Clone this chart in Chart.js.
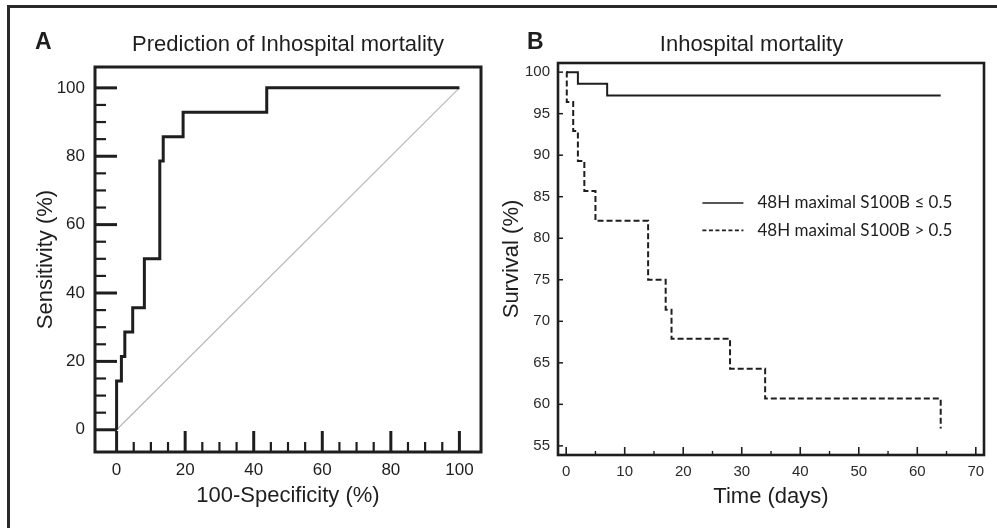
<!DOCTYPE html>
<html><head><meta charset="utf-8">
<script src="https://cdn.jsdelivr.net/npm/chart.js@4.4.1/dist/chart.umd.min.js"></script>
<style>
html,body{margin:0;padding:0;background:#fff;width:997px;height:528px;overflow:hidden;}
#frame{position:absolute;left:7px;top:5px;width:1010px;height:540px;border:3px solid #2a2a2a;box-sizing:border-box;}
#ca{position:absolute;left:0;top:0;}
#cb{position:absolute;left:497px;top:0;}
</style></head><body>
<div id="frame"></div>
<canvas id="ca" width="497" height="528"></canvas>
<canvas id="cb" width="500" height="528"></canvas>
<script>
// ---- Panel A: ROC curve (corner points, vertical step first) ----
const rocFpr = [0, 1.4, 2.4, 4.7, 8.1, 12.6, 13.6, 19.4, 43.8, 100];
const rocTpr = [0, 14.3, 21.4, 28.6, 35.7, 50.0, 78.6, 85.7, 92.9, 100];
const refFpr = [0, 100];
const refTpr = [0, 100];
const rocTicks = [0, 20, 40, 60, 80, 100];

// ---- Panel B: Kaplan-Meier survival ----
const kmLowTime = [0, 2, 7, 64];
const kmLowSurv = [100, 98.6, 97.2, 97.2];
const kmHighTime = [0, 0.1, 1.2, 2, 3.1, 5, 14, 17, 18, 28, 34, 64];
const kmHighSurv = [100, 96.4, 92.9, 89.3, 85.7, 82.1, 75.0, 71.4, 67.9, 64.3, 60.7, 57.1];
const kmLabels = ['48H maximal S100B \u2264 0.5', '48H maximal S100B > 0.5'];
const timeTicks = [0, 10, 20, 30, 40, 50, 60, 70];
const survTicks = [55, 60, 65, 70, 75, 80, 85, 90, 95, 100];

const ink = '#1e1e1e';
const sans = "'Liberation Sans', Arial, sans-serif";
const pts = (xs, ys) => xs.map((x, i) => ({x: x, y: ys[i]}));

function frameAndTicks(opts) {
  return {
    id: 'frameTicks',
    afterDatasetsDraw(chart) {
      const {ctx, chartArea: a, scales} = chart;
      ctx.save();
      ctx.strokeStyle = ink;
      ctx.lineCap = 'butt';
      for (const t of opts.ticks) {
        const s = scales[t.axis];
        const n = Math.round((t.to - t.from) / t.step);
        for (let i = 0; i <= n; i++) {
          const v = t.from + i * t.step;
          const major = Math.abs(v / t.major - Math.round(v / t.major)) < 1e-6;
          const len = major ? t.majLen : t.minLen;
          ctx.lineWidth = major ? t.majW : t.minW;
          const p = s.getPixelForValue(v);
          ctx.beginPath();
          if (t.axis === 'x') { ctx.moveTo(p, a.bottom); ctx.lineTo(p, a.bottom - len); }
          else { ctx.moveTo(a.left, p); ctx.lineTo(a.left + len, p); }
          ctx.stroke();
        }
      }
      ctx.lineWidth = opts.boxWidth;
      ctx.strokeRect(a.left, a.top, a.right - a.left, a.bottom - a.top);
      ctx.restore();
    }
  };
}
function panelLabel(text, x, y) {
  return { id: 'panelLabel', afterDraw(chart) {
    const ctx = chart.ctx; ctx.save(); ctx.fillStyle = ink;
    ctx.font = 'bold 23px ' + sans; ctx.textBaseline = 'alphabetic';
    ctx.fillText(text, x, y); ctx.restore(); } };
}
const kmLegend = { id: 'kmLegend', afterDatasetsDraw(chart) {
  const {ctx, chartArea: a} = chart;
  const w = a.right - a.left, h = a.bottom - a.top;
  ctx.save();
  ctx.font = '17px Lato, "Open Sans", sans-serif';
  ctx.fillStyle = ink; ctx.textBaseline = 'middle';
  chart.data.datasets.forEach((ds, i) => {
    const y = a.top + h * (0.357 + i * 0.07);
    const x0 = a.left + w * 0.339;
    ctx.strokeStyle = ink; ctx.lineWidth = 1.6;
    ctx.setLineDash(i === 0 ? [] : [4, 2.5]);
    ctx.beginPath(); ctx.moveTo(x0, y); ctx.lineTo(x0 + 41, y); ctx.stroke();
    ctx.setLineDash([]);
    ctx.fillText(ds.label, x0 + 55, y);
  });
  ctx.restore();
} };

Chart.defaults.font.family = sans;
Chart.defaults.color = ink;

new Chart(document.getElementById('ca'), {
  type: 'line',
  data: { datasets: [
    { label: 'ROC', data: pts(rocFpr, rocTpr), stepped: 'after', borderColor: ink, borderWidth: 3, pointRadius: 0, fill: false },
    { label: 'Reference', data: pts(refFpr, refTpr), borderColor: '#b8b8b8', borderWidth: 1.2, pointRadius: 0, fill: false }
  ]},
  options: {
    responsive: false, animation: false, devicePixelRatio: 1,
    layout: { padding: { left: 22, right: 16, top: 0, bottom: 0 } },
    plugins: {
      legend: { display: false }, tooltip: { enabled: false },
      title: { display: true, text: 'Prediction of Inhospital mortality', fullSize: false,
        font: { size: 22, weight: 'normal' }, color: ink, padding: { top: 32, bottom: 8.6 } }
    },
    scales: {
      x: { type: 'linear', min: -6.3, max: 106.3,
        afterBuildTicks: s => { s.ticks = rocTicks.map(v => ({value: v})); },
        afterFit: s => { s.height = 76; },
        grid: { display: false, drawTicks: false }, border: { display: false },
        ticks: { font: { size: 17 }, color: ink, padding: 8 },
        title: { display: true, text: '100-Specificity (%)', font: { size: 22 }, color: ink, padding: { top: 0, bottom: 19 } } },
      y: { type: 'linear', min: -6.5, max: 106.1,
        afterBuildTicks: s => { s.ticks = rocTicks.map(v => ({value: v})); },
        afterFit: s => { s.width = 73; },
        grid: { display: false, drawTicks: false }, border: { display: false },
        ticks: { font: { size: 17 }, color: ink, padding: 10 },
        title: { display: true, text: 'Sensitivity (%)', font: { size: 22 }, color: ink, padding: { top: 11, bottom: 0 } } }
    }
  },
  plugins: [frameAndTicks({ boxWidth: 3, ticks: [
    { axis: 'x', from: 0, to: 100, step: 5, major: 20, majLen: 21, minLen: 10, majW: 3, minW: 2.2 },
    { axis: 'y', from: 0, to: 100, step: 5, major: 20, majLen: 22, minLen: 11, majW: 3, minW: 2.2 }
  ]}), panelLabel('A', 35, 49)]
});

new Chart(document.getElementById('cb'), {
  type: 'line',
  data: { datasets: [
    { label: kmLabels[0], data: pts(kmLowTime, kmLowSurv), stepped: 'before', borderColor: ink, borderWidth: 2, pointRadius: 0, fill: false },
    { label: kmLabels[1], data: pts(kmHighTime, kmHighSurv), stepped: 'before', borderColor: ink, borderWidth: 2, borderDash: [6, 3], pointRadius: 0, fill: false }
  ]},
  options: {
    responsive: false, animation: false, devicePixelRatio: 1,
    layout: { padding: { left: 22, right: 13, top: 0, bottom: 0 } },
    plugins: {
      legend: { display: false }, tooltip: { enabled: false },
      title: { display: true, text: 'Inhospital mortality', fullSize: true,
        font: { size: 22, weight: 'normal' }, color: ink, padding: { top: 32, bottom: 4.6 } }
    },
    scales: {
      x: { type: 'linear', min: -1.4, max: 71.4,
        afterBuildTicks: s => { s.ticks = timeTicks.map(v => ({value: v})); },
        afterFit: s => { s.height = 73; },
        grid: { display: false, drawTicks: false }, border: { display: false },
        ticks: { font: { size: 15 }, color: '#2a2a2a', padding: 8 },
        title: { display: true, text: 'Time (days)', font: { size: 22 }, color: ink, padding: { top: 0, bottom: 18 } } },
      y: { type: 'linear', min: 53.9, max: 101.1,
        afterBuildTicks: s => { s.ticks = survTicks.map(v => ({value: v})); },
        afterFit: s => { s.width = 39; },
        grid: { display: false, drawTicks: false }, border: { display: false },
        ticks: { font: { size: 15 }, color: '#2a2a2a', padding: 8 },
        title: { display: true, text: 'Survival (%)', font: { size: 22 }, color: ink, padding: { top: -20, bottom: 0 } } }
    }
  },
  plugins: [frameAndTicks({ boxWidth: 2.6, ticks: [
    { axis: 'x', from: 0, to: 70, step: 5, major: 10, majLen: 8, minLen: 4, majW: 1.6, minW: 1.4 },
    { axis: 'y', from: 55, to: 100, step: 5, major: 5, majLen: 5, minLen: 5, majW: 1.5, minW: 1.5 }
  ]}), kmLegend, panelLabel('B', 30, 49)]
});
</script>
</body></html>
